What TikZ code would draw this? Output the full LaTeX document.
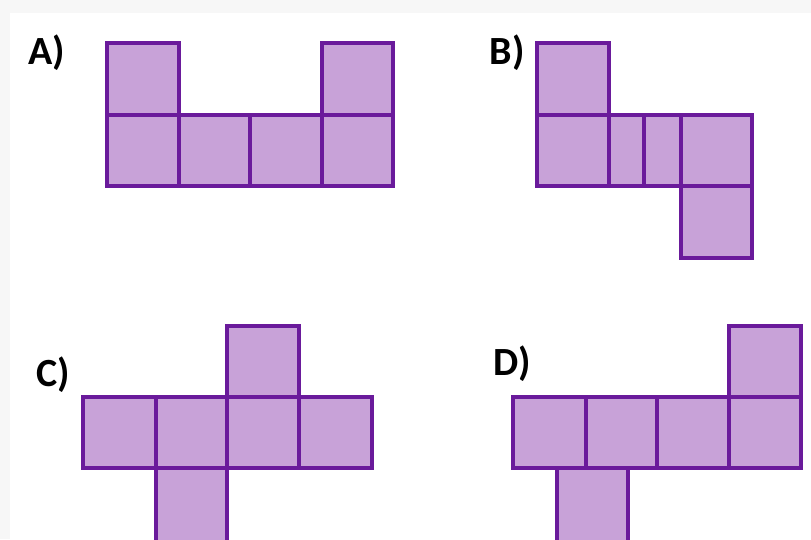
\documentclass[tikz,border=0pt]{standalone}
\usepackage{fontspec}
\setmainfont{Carlito}
\definecolor{netfill}{RGB}{200,162,216}
\definecolor{netline}{RGB}{106,26,155}
\definecolor{bggray}{RGB}{247,247,247}
\begin{document}
\begin{tikzpicture}[x=1pt,y=-1pt,
  sq/.style={fill=netfill,draw=netline,line width=3.1pt,line join=miter},
  lbl/.style={inner sep=0pt,font=\fontsize{40}{44}\selectfont\bfseries}]
\useasboundingbox (0,0) rectangle (811,539);
\fill[bggray] (0,0) rectangle (811,539);
\fill[white] (10,13) rectangle (811,539);
% A
\node[lbl] (la) at (47,53) {A)};
\draw[sq] (107,43) rectangle (179,115);
\draw[sq] (322,43) rectangle (393,115);
\draw[sq] (107,115) rectangle (179,186);
\draw[sq] (179,115) rectangle (250,186);
\draw[sq] (250,115) rectangle (322,186);
\draw[sq] (322,115) rectangle (393,186);
% B
\node[lbl] (lb) at (507,53) {B)};
\draw[sq] (537,43) rectangle (609,115);
\draw[sq] (537,115) rectangle (609,186);
\draw[sq] (609,115) rectangle (644,186);
\draw[sq] (644,115) rectangle (681,186);
\draw[sq] (681,115) rectangle (752,186);
\draw[sq] (681,186) rectangle (752,258);
% C
\node[lbl] (lc) at (53,375) {C)};
\draw[sq] (227,326) rectangle (299,397);
\draw[sq] (83,397) rectangle (156,468);
\draw[sq] (156,397) rectangle (227,468);
\draw[sq] (227,397) rectangle (299,468);
\draw[sq] (299,397) rectangle (372,468);
\draw[sq] (156,468) rectangle (227,545);
% D
\node[lbl] (ld) at (512,364) {D)};
\draw[sq] (729,326) rectangle (801,397);
\draw[sq] (513,397) rectangle (586,468);
\draw[sq] (586,397) rectangle (657,468);
\draw[sq] (657,397) rectangle (729,468);
\draw[sq] (729,397) rectangle (801,468);
\draw[sq] (557,468) rectangle (628,545);
\end{tikzpicture}
\end{document}
